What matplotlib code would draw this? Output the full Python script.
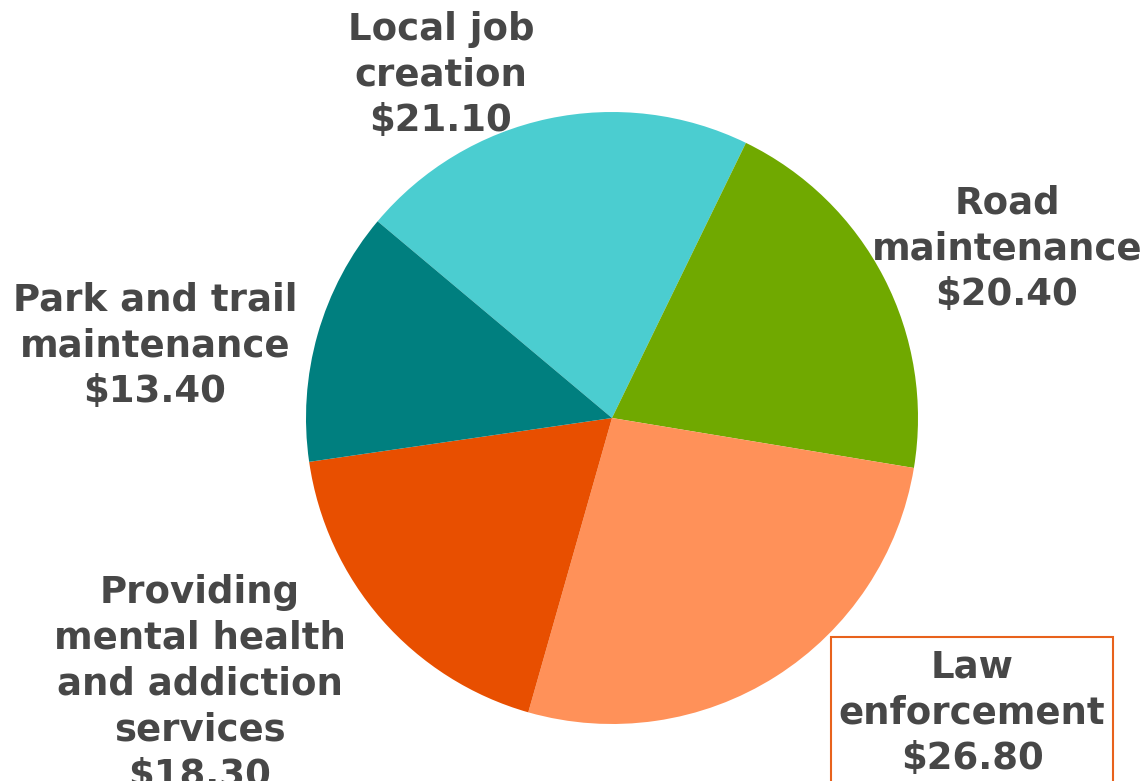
import matplotlib.pyplot as plt
from matplotlib.patches import Rectangle

# Data
categories = ['Local job\ncreation', 'Road\nmaintenance', 'Law\nenforcement',
              'Providing\nmental health\nand addiction\nservices', 'Park and trail\nmaintenance']
values = [21.10, 20.40, 26.80, 18.30, 13.40]
colors = ['#4BCDD0', '#70A900', '#FF9159', '#E84F00', '#007F7F']

# label centres in pixel coords (x, y from top)
label_pos = [(441, 75), (1007, 249), (972, 713), (200, 684), (155, 346)]

W, H = 1147, 781
fig = plt.figure(figsize=(W / 100, H / 100), dpi=100)
ax = fig.add_axes([0, 0, 1, 1])

ax.pie(values, colors=colors, startangle=140, counterclock=False,
       center=(612, H - 418), radius=306,
       wedgeprops={'linewidth': 0})

# the bottom-left label runs off the bottom edge, as in the original
for cat, val, (px, py) in zip(categories, values, label_pos):
    ax.text(px, H - py, f"{cat}\n${val:.2f}", ha='center', va='center',
            multialignment='center', fontsize=26.7, fontweight='bold',
            color='#474747', linespacing=1.3, family='DejaVu Sans')

# box around the Law enforcement label
ax.add_patch(Rectangle((831, -20), 282, H - 637 + 20, fill=False,
                       edgecolor='#E8621C', linewidth=1.5))

ax.set_xlim(0, W)
ax.set_ylim(0, H)
ax.set_aspect('equal')
ax.axis('off')

plt.savefig('out.png', dpi=100)
